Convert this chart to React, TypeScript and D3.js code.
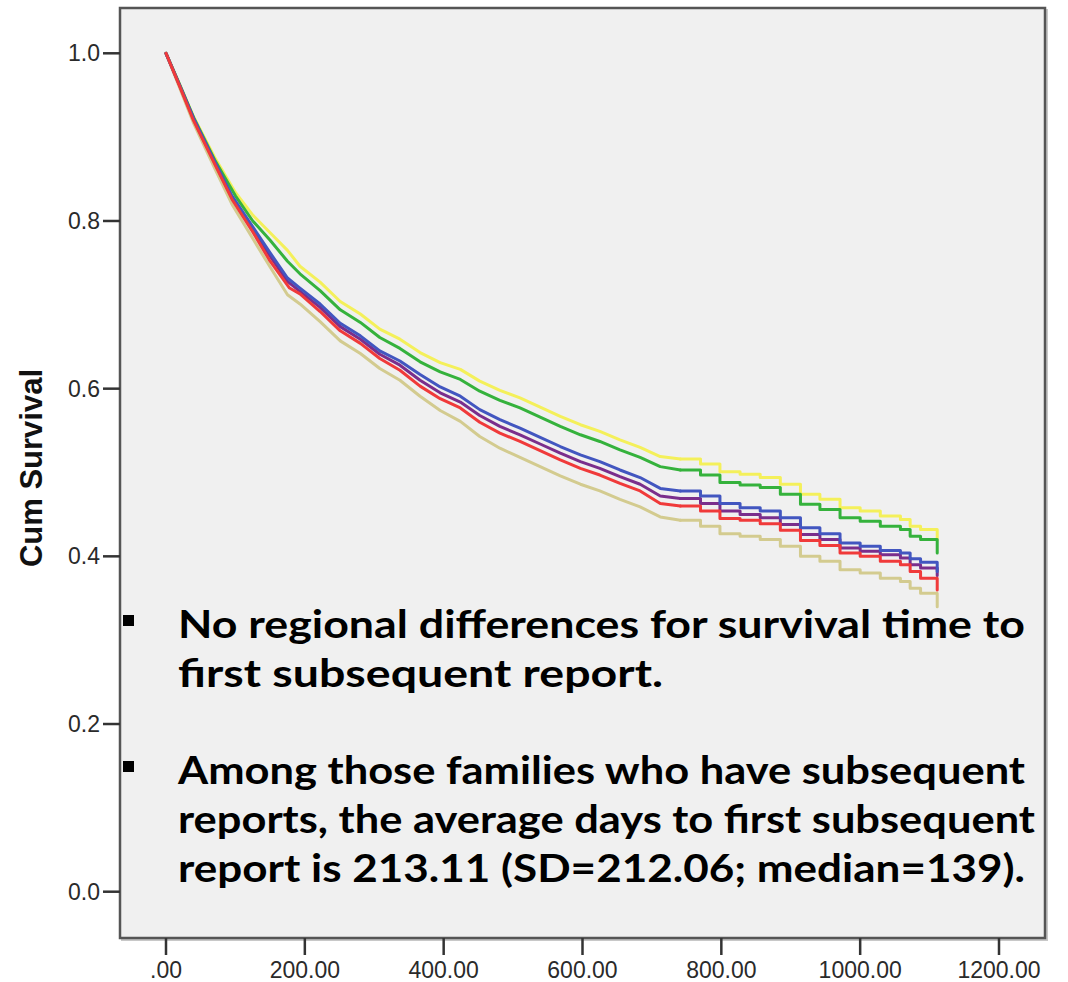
import React from 'react';
import * as d3 from 'd3';

const W = 1068;
const H = 982;

const xTicks = [0, 200, 400, 600, 800, 1000, 1200];
const xTickLabels = ['.00', '200.00', '400.00', '600.00', '800.00', '1000.00', '1200.00'];
const yTicks = [0, 0.2, 0.4, 0.6, 0.8, 1.0];
const yTickLabels = ['0.0', '0.2', '0.4', '0.6', '0.8', '1.0'];
const yAxisTitle = 'Cum Survival';

// [days, cumulative survival]
const yellowSeries: [number, number][] = [
  [0, 1.0], [20, 0.962], [40, 0.924], [70, 0.876], [100, 0.834], [125, 0.807], [150, 0.786], [175, 0.765], [193, 0.746],
  [222, 0.727], [251, 0.704], [280, 0.689], [308, 0.671], [337, 0.659], [366, 0.643], [395, 0.631], [424, 0.623],
  [452, 0.609], [481, 0.598], [510, 0.589], [539, 0.578], [568, 0.567], [597, 0.557], [625, 0.549], [654, 0.539],
  [683, 0.530], [712, 0.519], [741, 0.516], [770, 0.510], [798, 0.501], [827, 0.498], [856, 0.494], [885, 0.486],
  [914, 0.474], [942, 0.468], [971, 0.458], [1000, 0.454], [1029, 0.448], [1058, 0.444], [1072, 0.436], [1087, 0.432],
  [1111, 0.432], [1111, 0.420],
];
const greenSeries: [number, number][] = [
  [0, 1.0], [20, 0.962], [40, 0.923], [70, 0.873], [100, 0.830], [125, 0.800], [150, 0.777], [175, 0.752], [193, 0.737],
  [222, 0.717], [251, 0.694], [280, 0.679], [308, 0.661], [337, 0.648], [366, 0.632], [395, 0.620], [424, 0.611],
  [452, 0.597], [481, 0.586], [510, 0.577], [539, 0.566], [568, 0.555], [597, 0.545], [625, 0.537], [654, 0.527],
  [683, 0.518], [712, 0.507], [741, 0.503], [770, 0.497], [798, 0.488], [827, 0.485], [856, 0.482], [885, 0.474],
  [914, 0.462], [942, 0.456], [971, 0.446], [1000, 0.442], [1029, 0.436], [1058, 0.432], [1072, 0.424], [1087, 0.420],
  [1111, 0.418], [1111, 0.404],
];
const blueSeries: [number, number][] = [
  [0, 1.0], [20, 0.961], [40, 0.922], [70, 0.871], [95, 0.830], [125, 0.793], [150, 0.762], [175, 0.732], [193, 0.720],
  [222, 0.701], [251, 0.678], [280, 0.663], [308, 0.645], [337, 0.633], [366, 0.617], [395, 0.602], [424, 0.591],
  [452, 0.575], [481, 0.563], [510, 0.553], [539, 0.542], [568, 0.531], [597, 0.521], [625, 0.513], [654, 0.503],
  [683, 0.494], [712, 0.481], [741, 0.478], [770, 0.472], [798, 0.463], [827, 0.458], [856, 0.454], [885, 0.446],
  [914, 0.434], [942, 0.427], [971, 0.416], [1000, 0.412], [1029, 0.407], [1058, 0.404], [1072, 0.397], [1087, 0.393],
  [1111, 0.393], [1111, 0.382],
];
const purpleSeries: [number, number][] = [
  [0, 1.0], [20, 0.961], [40, 0.921], [70, 0.870], [95, 0.828], [125, 0.790], [150, 0.758], [175, 0.728], [193, 0.716],
  [222, 0.697], [251, 0.674], [280, 0.659], [308, 0.641], [337, 0.628], [366, 0.610], [395, 0.595], [424, 0.584],
  [452, 0.568], [481, 0.555], [510, 0.545], [539, 0.534], [568, 0.523], [597, 0.513], [625, 0.505], [654, 0.495],
  [683, 0.486], [712, 0.472], [741, 0.469], [770, 0.463], [798, 0.454], [827, 0.450], [856, 0.446], [885, 0.438],
  [914, 0.426], [942, 0.420], [971, 0.410], [1000, 0.406], [1029, 0.402], [1058, 0.398], [1072, 0.390], [1087, 0.386],
  [1111, 0.386], [1111, 0.377],
];
const redSeries: [number, number][] = [
  [0, 1.0], [20, 0.960], [39, 0.921], [70, 0.868], [95, 0.826], [125, 0.787], [150, 0.752], [178, 0.720], [193, 0.713],
  [222, 0.692], [251, 0.669], [280, 0.654], [308, 0.636], [337, 0.622], [366, 0.603], [395, 0.588], [424, 0.577],
  [452, 0.560], [481, 0.547], [510, 0.537], [539, 0.526], [568, 0.515], [597, 0.505], [625, 0.497], [654, 0.487],
  [683, 0.478], [712, 0.463], [741, 0.460], [770, 0.454], [798, 0.445], [827, 0.443], [856, 0.439], [885, 0.431],
  [914, 0.419], [942, 0.413], [971, 0.404], [1000, 0.400], [1029, 0.394], [1058, 0.390], [1072, 0.382], [1087, 0.374],
  [1111, 0.372], [1111, 0.360],
];
const tanSeries: [number, number][] = [
  [0, 1.0], [20, 0.958], [39, 0.918], [70, 0.863], [95, 0.820], [125, 0.779], [150, 0.745], [175, 0.712], [193, 0.701],
  [222, 0.680], [251, 0.657], [280, 0.642], [308, 0.624], [337, 0.610], [366, 0.591], [395, 0.574], [424, 0.561],
  [452, 0.543], [481, 0.529], [510, 0.518], [539, 0.507], [568, 0.496], [597, 0.486], [625, 0.478], [654, 0.468],
  [683, 0.459], [712, 0.447], [741, 0.443], [770, 0.436], [798, 0.427], [827, 0.424], [856, 0.420], [885, 0.412],
  [914, 0.400], [942, 0.394], [971, 0.384], [1000, 0.380], [1029, 0.374], [1058, 0.370], [1072, 0.362], [1087, 0.356],
  [1111, 0.354], [1111, 0.340],
];

const seriesList = [
  { name: 'tan', data: tanSeries, color: '#d3cb8f' },
  { name: 'yellow', data: yellowSeries, color: '#f4f05a' },
  { name: 'green', data: greenSeries, color: '#35b23c' },
  { name: 'purple', data: purpleSeries, color: '#7a2e8c' },
  { name: 'blue', data: blueSeries, color: '#4256c0' },
  { name: 'red', data: redSeries, color: '#f03a3a' },
];

// day after which the Kaplan-Meier steps become visible
const stepStartDay = 741;

const bulletLines = [
  { text: 'No regional differences for survival time to', bullet: true, len: 847 },
  { text: 'first subsequent report.', bullet: false, len: 485 },
  { text: 'Among those families who have subsequent', bullet: true, len: 847 },
  { text: 'reports, the average days to first subsequent', bullet: false, len: 857 },
  { text: 'report is 213.11 (SD=212.06; median=139).', bullet: false, len: 847 },
];
const bulletBaselines = [638, 687, 784, 833, 882];

export default function App() {
  const x = d3.scaleLinear().domain([0, 1200]).range([166, 999]);
  const y = d3.scaleLinear().domain([0, 1]).range([891.7, 53.3]);
  const lineHead = d3
    .line<[number, number]>()
    .x((d) => x(d[0]))
    .y((d) => y(d[1]))
    .curve(d3.curveLinear);
  const lineTail = d3
    .line<[number, number]>()
    .x((d) => x(d[0]))
    .y((d) => y(d[1]))
    .curve(d3.curveStepAfter);

  const frame = { left: 120, top: 8, right: 1045, bottom: 938 };

  return (
    <svg
      width={W}
      height={H}
      style={{ position: 'absolute', left: 0, top: 0, background: '#ffffff' }}
    >
      <rect x={0} y={0} width={W} height={H} fill="#ffffff" />
      {/* frame shadow */}
      <rect
        x={frame.left + 2}
        y={frame.top + 2}
        width={frame.right - frame.left}
        height={frame.bottom - frame.top}
        fill="none"
        stroke="#c8c8c8"
        strokeWidth={2}
      />
      <rect
        x={frame.left}
        y={frame.top}
        width={frame.right - frame.left}
        height={frame.bottom - frame.top}
        fill="#f0f0f0"
        stroke="#555555"
        strokeWidth={2.5}
      />

      {/* y ticks */}
      {yTicks.map((t, i) => (
        <g key={'yt' + i}>
          <line x1={103} x2={frame.left} y1={y(t)} y2={y(t)} stroke="#333" strokeWidth={2.5} />
          <text
            x={100}
            y={y(t) + 8}
            textAnchor="end"
            fontFamily="Arial, 'Liberation Sans', sans-serif"
            fontSize={23}
            fill="#2a2a2a"
          >
            {yTickLabels[i]}
          </text>
        </g>
      ))}

      {/* x ticks */}
      {xTicks.map((t, i) => (
        <g key={'xt' + i}>
          <line x1={x(t)} x2={x(t)} y1={frame.bottom} y2={955} stroke="#333" strokeWidth={2.5} />
          <text
            x={x(t)}
            y={978}
            textAnchor="middle"
            fontFamily="Arial, 'Liberation Sans', sans-serif"
            fontSize={23}
            fill="#2a2a2a"
          >
            {xTickLabels[i]}
          </text>
        </g>
      ))}

      {/* y axis title */}
      <text
        transform={`translate(42, 468) rotate(-90)`}
        textAnchor="middle"
        fontFamily="Arial, 'Liberation Sans', sans-serif"
        fontWeight="bold"
        fontSize={31}
        fill="#111"
      >
        {yAxisTitle}
      </text>

      {/* survival curves */}
      {seriesList.map((s) => {
        const head = s.data.filter((d) => d[0] <= stepStartDay);
        const tail = s.data.filter((d) => d[0] >= stepStartDay);
        return (
          <g key={s.name}>
            <path
              d={lineHead(head) || ''}
              fill="none"
              stroke={s.color}
              strokeWidth={3}
              strokeLinejoin="round"
              strokeLinecap="round"
            />
            <path
              d={lineTail(tail) || ''}
              fill="none"
              stroke={s.color}
              strokeWidth={3}
              strokeLinejoin="round"
              strokeLinecap="round"
            />
          </g>
        );
      })}

      {/* overlay text */}
      {bulletLines.map((l, i) => (
        <g key={'bl' + i}>
          {l.bullet && (
            <rect x={123} y={bulletBaselines[i] - 23} width={11} height={11} fill="#000" />
          )}
          <text
            x={178}
            y={bulletBaselines[i]}
            fontFamily="Lato, 'Open Sans', sans-serif"
            fontWeight="bold"
            fontSize={39}
            fill="#000"
            textLength={l.len}
            lengthAdjust="spacingAndGlyphs"
          >
            {l.text}
          </text>
        </g>
      ))}
    </svg>
  );
}
